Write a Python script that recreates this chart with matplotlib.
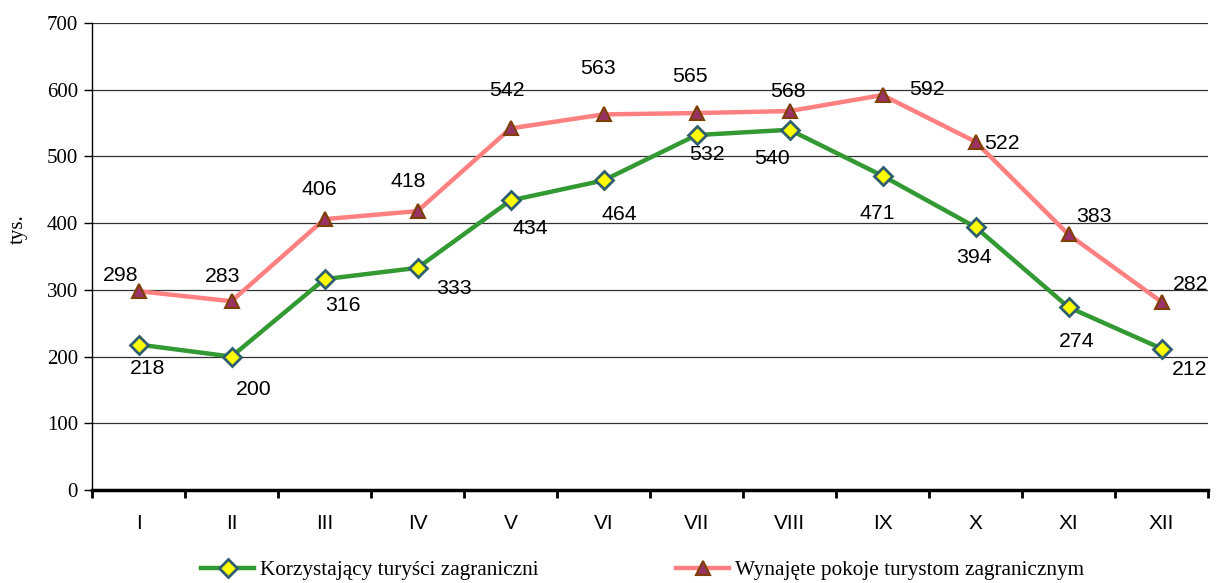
import matplotlib
matplotlib.use("Agg")
import matplotlib.pyplot as plt
import numpy as np

months = ["I", "II", "III", "IV", "V", "VI", "VII", "VIII", "IX", "X", "XI", "XII"]
tourists = [218, 200, 316, 333, 434, 464, 532, 540, 471, 394, 274, 212]
rooms = [298, 283, 406, 418, 542, 563, 565, 568, 592, 522, 383, 282]
label_tourists = "Korzystający turyści zagraniczni"
label_rooms = "Wynajęte pokoje turystom zagranicznym"
y_label = "tys."

# label offsets in pixels (dx, dy-down)
off_t = [(9, 24), (22, 33), (18, 26), (36, 21), (20, 28), (16, 34), (10, 19), (-18, 29), (-5, 38), (-2, 30), (8, 34), (28, 21)]
off_r = [(-18, -16), (-9, -25), (-5, -30), (-9, -30), (-4, -38), (-6, -46), (-7, -37), (-2, -20), (44, -6), (26, 2), (25, -18), (29, -17)]

serif = ["Liberation Serif", "DejaVu Serif"]
sans = ["Liberation Sans", "DejaVu Sans"]

fig = plt.figure(figsize=(12.16, 5.83), dpi=100)
ax = fig.add_axes([92/1216, 1-490/583, (1208-92)/1216, (490-23)/583])

x = np.arange(len(months))
ax.plot(x, rooms, color="#FF8080", lw=3.2, marker="^", ms=10, mfc="#993366",
        mec="#7F3F00", mew=1.5, label=label_rooms, zorder=3)
ax.plot(x, tourists, color="#339933", lw=3.2, marker="D", ms=9.5, mfc="#FFFF00",
        mec="#2F5F6F", mew=2, label=label_tourists, zorder=4)

pt = 72/100
for i in range(len(x)):
    dx, dy = off_t[i]
    ax.annotate(str(tourists[i]), (x[i], tourists[i]), xytext=(dx*pt, -dy*pt),
                textcoords="offset points", ha="center", va="center",
                fontsize=15.3, family=sans)
    dx, dy = off_r[i]
    ax.annotate(str(rooms[i]), (x[i], rooms[i]), xytext=(dx*pt, -dy*pt),
                textcoords="offset points", ha="center", va="center",
                fontsize=15.3, family=sans)

ax.set_xlim(-0.5, len(months)-0.5)
ax.set_ylim(0, 700)
ax.set_yticks(range(0, 701, 100))
ax.set_yticklabels([str(v) for v in range(0, 701, 100)], family=serif, fontsize=15)
ax.set_xticks(np.arange(-0.5, len(months), 1))
ax.set_xticklabels([])
ax.set_xticks(x, minor=True)
ax.set_xticklabels(months, minor=True, family=sans, fontsize=15)
ax.tick_params(axis="x", which="minor", length=0, pad=17)
ax.tick_params(axis="x", which="major", length=6, width=2, direction="out")
ax.tick_params(axis="y", length=6, width=1, direction="out", pad=4)
ax.grid(axis="y", color="#333333", lw=0.9)
ax.set_axisbelow(True)
for s in ["top", "right"]:
    ax.spines[s].set_visible(False)
ax.spines["bottom"].set_linewidth(2.5)
ax.spines["left"].set_linewidth(1)
ax.set_ylabel(y_label, family=serif, fontsize=15)
ax.yaxis.set_label_coords((28-92)/1116, (490-229)/467)

h, l = ax.get_legend_handles_labels()
fig.legend(h[::-1], l[::-1], ncol=2, loc="center left", bbox_to_anchor=(182/1216, 1-570/583),
           frameon=False, prop={"family": serif, "size": 15.3}, handlelength=2.5,
           columnspacing=6.5, handletextpad=0.25)

fig.savefig("out.png", dpi=100)
